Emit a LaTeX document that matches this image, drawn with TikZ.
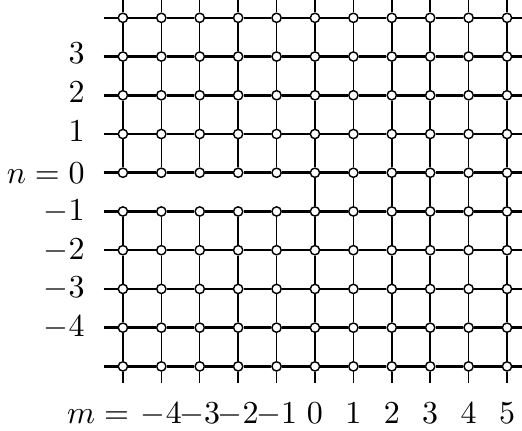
\documentclass[tikz,border=0pt]{standalone}
\usetikzlibrary{positioning}

\begin{document}
\begin{tikzpicture}[x=12pt,y=12.1pt]

    \tikzset{
      site/.style={
        circle,
        draw,
        fill=white,
        line width=0.45pt,
        inner sep=0pt,
        minimum size=2.9pt,
      },
      hbond/.style={line width=0.8pt},
      vbond/.style={line width=0.45pt},
      rowlbl/.style={anchor=east},
      collbl/.style={anchor=base},
    }
    \clip (-8.2,-6.65) rectangle (5.39,4.46);
	% lattice sites
	\foreach \m in {-5,...,5}
	  \foreach \n in {-5,...,4}
	    \node[site] (s\m_\n) at (\m,\n) {};
	% free ends of the lines
	\foreach \n in {-5,...,4} {
	  \coordinate (l\n) at (-5.5,\n);
	  \coordinate (r\n) at (5.5,\n);
	}
	\foreach \m in {-5,...,5} {
	  \coordinate (t\m) at (\m,4.5);
	  \coordinate (b\m) at (\m,-5.42);
	}
	% horizontal bonds
	\foreach \n in {-5,...,4} {
	  \draw[hbond] (l\n) -- (s-5_\n);
	  \draw[hbond] (s5_\n) -- (r\n);
	  \foreach \m in {-5,...,4} {
	    \pgfmathtruncatemacro{\mm}{\m+1}
	    \draw[hbond] (s\m_\n) -- (s\mm_\n);
	  }
	}
	% vertical bonds, cut between n=0 and n=-1 for m<0
	\foreach \m in {-5,...,5} {
	  \draw[vbond] (t\m) -- (s\m_4);
	  \draw[vbond] (s\m_-5) -- (b\m);
	  \foreach \n in {-4,...,4} {
	    \pgfmathtruncatemacro{\nn}{\n-1}
	    \ifnum\n=0 \ifnum\m<0 \else
	      \draw[vbond] (s\m_\n) -- (s\m_\nn);
	    \fi \else
	      \draw[vbond] (s\m_\n) -- (s\m_\nn);
	    \fi
	  }
	}
	% row labels
	\foreach \n in {-4,...,3} {
	  \ifnum\n=0
	    \node[rowlbl] (n\n) at (-5.7,\n) {$n=0$};
	  \else\ifnum\n>0
	    \node[rowlbl, yshift=1pt] (n\n) at (-5.7,\n) {$\n$};
	  \else
	    \node[rowlbl] (n\n) at (-5.7,\n) {$\n$};
	  \fi\fi
	}
	% column labels
	\foreach \m in {-4,...,5}
	  \node[collbl] (m\m) at (\m,-6.48) {$\m$};
	\node[anchor=base east, inner sep=0pt] (mlbl) at (m-4.base west) {$m=$};

\end{tikzpicture}
\end{document}
